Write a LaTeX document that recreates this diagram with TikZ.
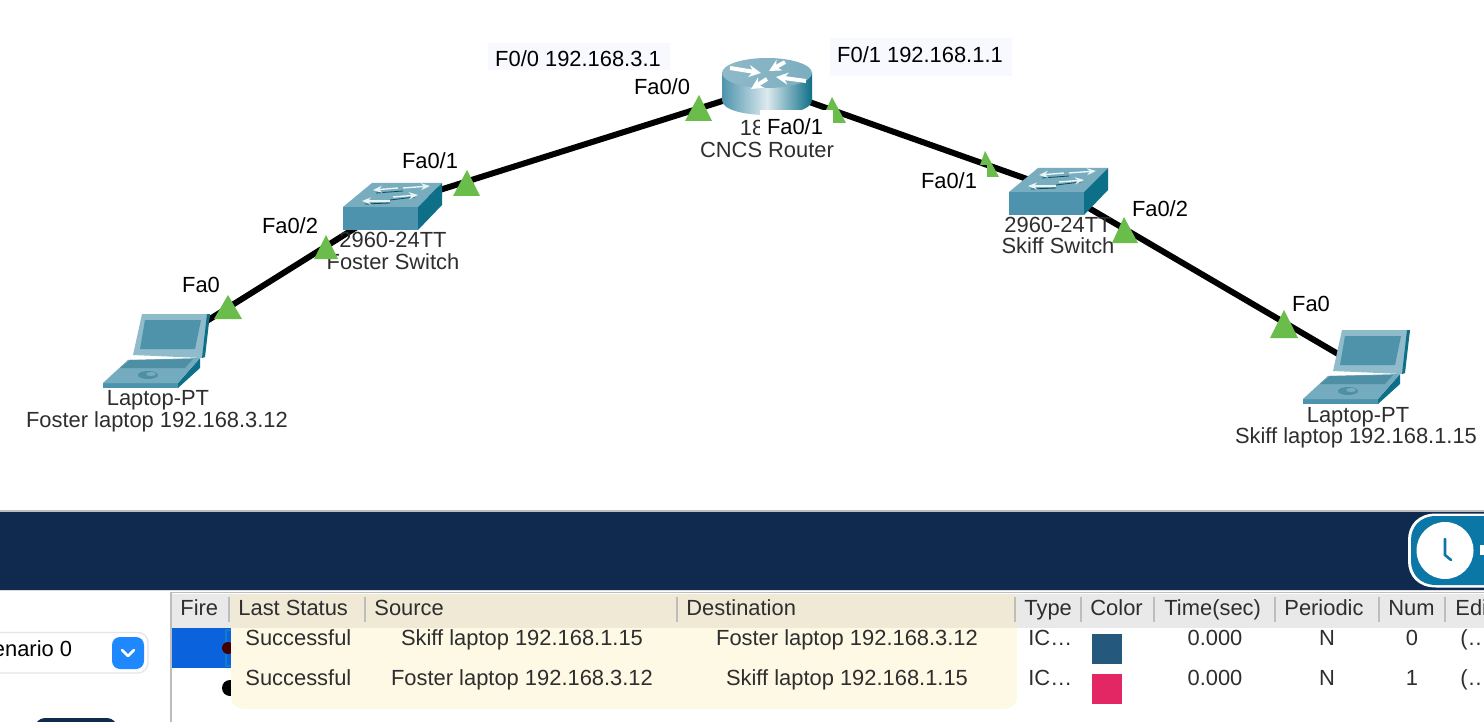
\documentclass[tikz,border=0pt]{standalone}
\usepackage{fontspec}
\setmainfont{Liberation Sans}
\usetikzlibrary{arrows.meta}
\definecolor{navy}{HTML}{0F2A4E}
\definecolor{lidc}{HTML}{8FBBCB}
\definecolor{scrc}{HTML}{4F93AB}
\definecolor{darkt}{HTML}{0E6F88}
\definecolor{deckc}{HTML}{74ABBE}
\definecolor{keyc}{HTML}{4F8FA5}
\definecolor{frontc}{HTML}{4E93AD}
\definecolor{topc}{HTML}{78ACBF}
\definecolor{routertop}{HTML}{8FB9C9}
\definecolor{trig}{HTML}{6ABD4B}
\definecolor{ipbox}{HTML}{F8F8FF}
\definecolor{cream}{HTML}{FEF9E5}
\definecolor{tan}{HTML}{EFE9D5}
\definecolor{hdr}{HTML}{E9E9E9}
\definecolor{sep}{HTML}{BDBDBD}
\definecolor{txt}{HTML}{2E2E2E}
\definecolor{clockc}{HTML}{0B77A6}
\definecolor{rowblue}{HTML}{0A62DC}
\definecolor{btnblue}{HTML}{1E88FF}
\definecolor{swA}{HTML}{24587C}
\definecolor{swB}{HTML}{E32765}
\tikzset{
  x=0.5pt,y=-0.5pt,
  basetext/.style={inner sep=0,text height=8pt,text depth=0.2pt,font=\fontsize{10.95}{12}\selectfont},
  devtext/.style={basetext,text=txt},
  porttext/.style={basetext,text=black},
  celltext/.style={basetext,text=txt},
  hdrtext/.style={basetext,text=txt,anchor=west},
  hdrsep/.style={draw=sep,line width=1pt},
  devnode/.style={inner sep=0,minimum size=0},
  link/.style={draw=black,line width=3pt},
  porttri/.style={fill=trig},
  iconarrow/.style={draw=white!85!topc,line width=0.7pt,-{Stealth[length=4.5pt,width=3.5pt]}},
  iconline/.style={draw=darkt!70!black,line width=0.4pt},
  routerarrow/.style={draw=white,line width=2pt,-{Stealth[length=6pt,width=6pt]}},
  switchicon/.pic={
    \fill[topc] (0,0)--(29,-24)--(99,-24)--(75,0)--cycle;
    \fill[frontc] (0,0) rectangle (75,23);
    \fill[darkt] (75,0)--(99,-24)--(99,-2)--(75,23)--cycle;
    \draw[iconline] (33,-14)--(60,-16) (22,-3)--(47,-4);
    \draw[iconline] (47,-7)--(72,-10);
    \draw[iconarrow] (55,-19)--(30,-17);
    \draw[iconarrow] (60,-19)--(87,-21);
    \draw[iconarrow] (47,-6)--(19,-6);
    \draw[iconarrow] (50,-10)--(75,-12);
  },
  laptopicon/.pic={
    \fill[lidc] (39,-69)--(107,-69)--(99,-25)--(30,-28)--cycle;
    \fill[scrc] (42,-63)--(98,-63)--(92,-34)--(37,-34)--cycle;
    \fill[darkt] (107,-69)--(102,-26)--(99,-25)--(104,-69)--cycle;
    \fill[frontc] (0,0) rectangle (75,5);
    \fill[darkt] (75,0)--(97,-25)--(97,-15)--(75,5)--cycle;
    \fill[deckc] (0,0)--(25,-23)--(97,-25)--(75,0)--cycle;
    \fill[keyc] (17,-15)--(27,-23)--(90,-24)--(82,-15)--cycle;
    \fill[keyc] (45,-8) ellipse [x radius=10,y radius=4];
    \fill[deckc] (48,-9) ellipse [x radius=5,y radius=2];
  }
}
\begin{document}
\begin{tikzpicture}
\useasboundingbox (0,0) rectangle (1484,722);
\clip (0,0) rectangle (1484,722);
\fill[white] (0,0) rectangle (1484,722);

% device anchors
\node[devnode] (laptopA) at (170,344) {};
\node[devnode] (switchA) at (392,205) {};
\node[devnode] (router) at (767,87) {};
\node[devnode] (switchB) at (1058,190) {};
\node[devnode] (laptopB) at (1350,361) {};

% IP boxes
\node[fill=ipbox,inner sep=0,minimum width=91pt,minimum height=13.5pt] (ipboxA) at (579,56.5) {};
\node[porttext] (ipA) at (578,59) {F0/0 192.168.3.1};
\node[fill=ipbox,inner sep=0,minimum width=91pt,minimum height=19pt] (ipboxB) at (921,57) {};
\node[porttext] (ipB) at (920,55) {F0/1 192.168.1.1};

% links
\draw[link] (laptopA) -- (switchA);
\draw[link] (switchA) -- (router);
\draw[link] (router) -- (switchB);
\draw[link] (switchB) -- (laptopB);

% router
\shade[left color=frontc,right color=darkt,middle color=white!80!frontc]
  (722,73) -- (722,100) .. controls (722,120) and (812,120) .. (812,100) -- (812,73) -- cycle;
\shade[left color=routertop,right color=routertop!85!darkt] (767,73) ellipse [x radius=45,y radius=15];
\draw[routerarrow] (730,68)--(761,73);
\draw[routerarrow] (785,62)--(769,71);
\draw[routerarrow] (806,81)--(776,77);
\draw[routerarrow] (767,79)--(751,89);

% switches and laptops
\pic at (343,207) {switchicon};
\pic at (1009,192) {switchicon};
\pic at (103,383) {laptopicon};
\pic at (1303,399) {laptopicon};

% device labels
\node[devtext] (labA1) at (158,398) {Laptop-PT};
\node[devtext] (labA2) at (157,420) {Foster laptop 192.168.3.12};
\node[devtext] (labS1) at (393,240) {2960-24TT};
\node[devtext] (labS2) at (393,262) {Foster Switch};
\node[devtext] (labR1) at (752,128) {18};
\node[devtext] (labR2) at (767,150) {CNCS Router};
\node[devtext] (labT1) at (1058,225) {2960-24TT};
\node[devtext] (labT2) at (1058,246) {Skiff Switch};
\node[devtext] (labB1) at (1358,415) {Laptop-PT};
\node[devtext] (labB2) at (1356,436) {Skiff laptop 192.168.1.15};

% port labels
\node[fill=white,inner sep=0,minimum width=36.5pt,minimum height=13.5pt] (boxR) at (796.5,123.5) {};
\node[porttext] (pR1) at (795,127) {Fa0/1};
\node[porttext] (pR0) at (662,87) {Fa0/0};
\node[porttext] (pA1) at (430,161) {Fa0/1};
\node[porttext] (pA2) at (290,226) {Fa0/2};
\node[porttext] (pA0) at (201,285) {Fa0};
\node[porttext] (pB1) at (949,181) {Fa0/1};
\node[porttext] (pB2) at (1160,209) {Fa0/2};
\node[porttext] (pB0) at (1311,304) {Fa0};

% port triangles
\fill[porttri] (228,295)--(242,319)--(214,319)--cycle;
\fill[porttri] (326,235)--(338,259)--(314,259)--cycle;
\fill[porttri] (467,170)--(480,196)--(453,196)--cycle;
\fill[porttri] (699,95)--(712,121)--(685,121)--cycle;
\fill[porttri] (832,97)--(846,123)--(833,123)--(833,110)--(826,110)--cycle;
\fill[porttri] (985,151)--(999,177)--(987,177)--(987,165)--(980,165)--cycle;
\fill[porttri] (1124,217)--(1138,243)--(1112,243)--cycle;
\fill[porttri] (1284,310)--(1298,338)--(1270,338)--cycle;

% dark bar
\fill[sep] (0,509.5) rectangle (1484,511.5);
\fill[navy] (0,511.5) rectangle (1484,589.5);
\fill[white!85!black] (0,589.5) rectangle (1484,590.5);
\fill[white] (1484,513.5) -- (1436,513.5) .. controls (1418,513.5) and (1408,525) .. (1408,540) -- (1408,561) .. controls (1408,576) and (1418,587.5) .. (1436,587.5) -- (1484,587.5) -- cycle;
\fill[clockc] (1484,516) -- (1436,516) .. controls (1420,516) and (1411,527) .. (1411,540) -- (1411,561) .. controls (1411,574) and (1420,585) .. (1436,585) -- (1484,585) -- cycle;
\fill[white] (1445,550.5) circle [radius=28.5];
\draw[draw=clockc,line width=1.3pt,line cap=round] (1445,539) -- (1445,555) -- (1451,560);
\fill[white] (1480,545) rectangle (1484,555);

% left control
\filldraw[draw=black!10,fill=white,line width=0.6pt,rounded corners=5pt] (-20,632.5) rectangle (148,673);
\node[basetext,anchor=east,text=black] (scenario) at (72.5,649) {enario 0};
\fill[btnblue,rounded corners=4pt] (112,637) rectangle (144,669);
\draw[white,line width=1.3pt,line cap=round,line join=round] (122,650)--(128,656)--(134,650);
\fill[navy,rounded corners=5pt] (35,718) rectangle (117,740);

% table
\draw[draw=sep,line width=0.6pt] (171,722)--(171,592.5)--(1484,592.5);
\fill[hdr] (172,594) rectangle (1484,628);
\fill[rowblue] (172,628) rectangle (231,668);
\draw[draw=cyan!60!blue,line width=0.6pt] (226,630) rectangle (234,666);
\fill[black!75!red] (228,648) circle [radius=6];
\fill[black] (230,688) circle [radius=8];
\fill[cream,rounded corners=6pt] (231,600) rectangle (1017,709);
\fill[tan] (231,594) rectangle (1017,628);

% header separators
\foreach \px in {229,365,677,1015,1081,1154,1275,1379,1445}
  \draw[hdrsep] (\px,597) -- (\px,622);

\node[hdrtext] (hFire) at (180,608) {Fire};
\node[hdrtext] (hLast) at (238,608) {Last Status};
\node[hdrtext] (hSrc) at (374,608) {Source};
\node[hdrtext] (hDst) at (686,608) {Destination};
\node[hdrtext] (hType) at (1024,608) {Type};
\node[hdrtext] (hCol) at (1090,608) {Color};
\node[hdrtext] (hTime) at (1164,608) {Time(sec)};
\node[hdrtext] (hPer) at (1284,608) {Periodic};
\node[hdrtext] (hNum) at (1388,608) {Num};
\node[hdrtext] (hEdi) at (1455,608) {Edi};

% rows
\node[celltext,anchor=west] (r1a) at (245,638) {Successful};
\node[celltext] (r1b) at (522,638) {Skiff laptop 192.168.1.15};
\node[celltext] (r1c) at (847,638) {Foster laptop 192.168.3.12};
\node[celltext,anchor=west] (r1d) at (1028,638) {IC…};
\node[celltext] (r1e) at (1215,638) {0.000};
\node[celltext] (r1f) at (1327,638) {N};
\node[celltext] (r1g) at (1412,638) {0};
\node[celltext,anchor=west] (r1h) at (1460,638) {(…};
\node[celltext,anchor=west] (r2a) at (245,678) {Successful};
\node[celltext] (r2b) at (522,678) {Foster laptop 192.168.3.12};
\node[celltext] (r2c) at (847,678) {Skiff laptop 192.168.1.15};
\node[celltext,anchor=west] (r2d) at (1028,678) {IC…};
\node[celltext] (r2e) at (1215,678) {0.000};
\node[celltext] (r2f) at (1327,678) {N};
\node[celltext] (r2g) at (1412,678) {1};
\node[celltext,anchor=west] (r2h) at (1460,678) {(…};
\fill[swA] (1092,634) rectangle (1122,664);
\fill[swB] (1092,674) rectangle (1122,704);
\end{tikzpicture}
\end{document}
